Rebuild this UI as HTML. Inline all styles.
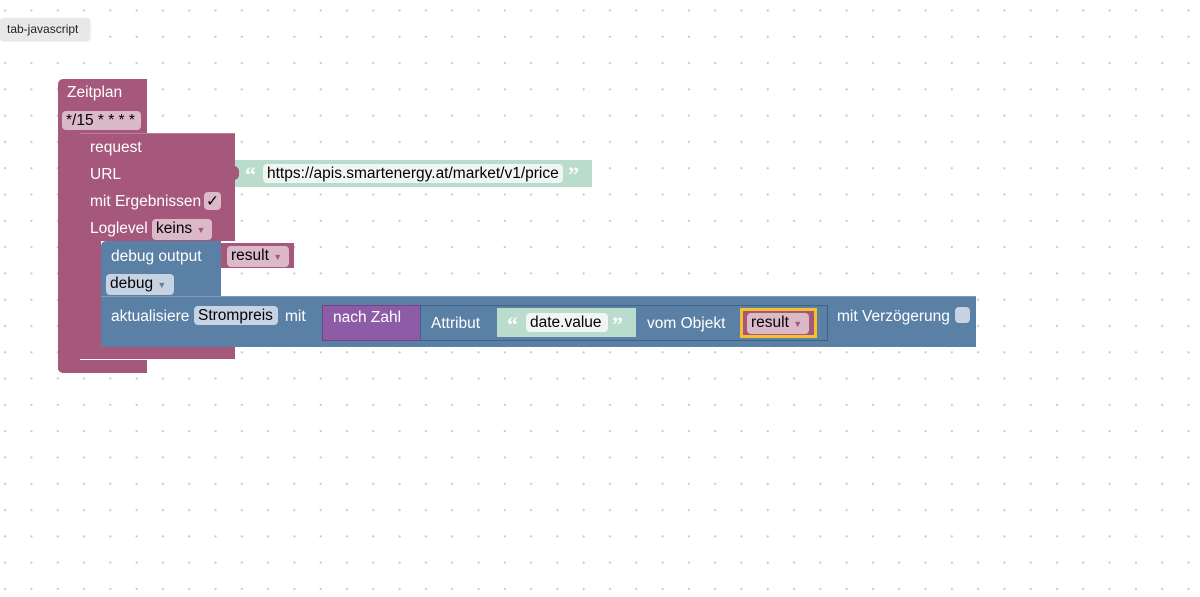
<!DOCTYPE html>
<html><head><meta charset="utf-8"><style>
body{margin:0;width:1200px;height:597px;overflow:hidden;background:#fff;position:relative;font-family:"Liberation Sans",sans-serif;
background-image:radial-gradient(circle,#c8c8c8 0.9px,transparent 1.3px);background-size:26.3px 26.3px;background-position:-8px -29px;}
div{position:absolute;box-sizing:border-box}
.m{background:#a5587b}
.b{background:#5b80a5}
.t{color:#fff;font-size:15.5px;white-space:nowrap}
.f{border-radius:4px;color:#000;font-size:15.5px;white-space:nowrap;line-height:19px;padding:0 4px}
.fm{background:#dcb9c9}
.fb{background:#c7d3e2}
.fw{background:#f1f5f3}
.q{color:#fff;font-size:22px;font-weight:bold;font-family:"Liberation Serif",serif;line-height:22px}
</style></head><body>
<div style="left:0;top:18px;width:90px;height:22px;background:#e8e8e8;border-radius:3px;font-size:12px;line-height:22px;padding-left:7px;color:#222;box-shadow:0 1px 2px rgba(0,0,0,.15)">tab-javascript</div>

<!-- Zeitplan -->
<div class="m" style="left:58px;top:79px;width:89px;height:54px;border-radius:5px 0 0 0"></div>
<div class="m" style="left:58px;top:130px;width:22px;height:240px"></div>
<div class="m" style="left:58px;top:360px;width:89px;height:13px;border-radius:0 0 0 5px"></div>
<div class="t" style="left:67px;top:84px">Zeitplan</div>
<div class="f fm" style="left:62px;top:111px;width:79px">*/15 * * * *</div>

<!-- request -->
<div class="m" style="left:80px;top:133px;width:155px;height:108px;border-top:1px solid #c47c9c"></div>
<div class="m" style="left:80px;top:240px;width:21px;height:118px"></div>
<div class="m" style="left:80px;top:347px;width:155px;height:12px"></div>
<div class="t" style="left:90px;top:139px">request</div>
<div class="t" style="left:90px;top:166px">URL</div>
<div class="t" style="left:90px;top:193px">mit Ergebnissen</div>
<div class="f fm" style="left:204px;top:192px;width:17px;height:18px;padding:0 2px">✓</div>
<div class="t" style="left:90px;top:220px">Loglevel</div>
<div class="f fm" style="left:152px;top:219px;width:60px">keins <span style="color:#a5587b;font-size:9px">▼</span></div>

<!-- URL string -->
<div style="left:235px;top:160px;width:357px;height:27px;background:#b9dccd"></div>
<div style="left:231px;top:166px;width:8px;height:14px;border-radius:0 5px 5px 0;background:#a5587b"></div>
<div class="q" style="left:245px;top:164px">“</div>
<div class="f fw" style="left:263px;top:164px;width:300px">https://apis.smartenergy.at/market/v1/price</div>
<div class="q" style="left:568px;top:164px">”</div>

<!-- debug -->
<div class="b" style="left:101px;top:241px;width:120px;height:56px;border-radius:5px 0 0 0"></div>
<div class="t" style="left:111px;top:248px">debug output</div>
<div class="f fb" style="left:106px;top:274px;width:68px">debug <span style="color:#5b80a5;font-size:9px">▼</span></div>
<div class="m" style="left:221px;top:243px;width:73px;height:25px"></div>
<div class="f fm" style="left:227px;top:246px;width:62px">result <span style="color:#a5587b;font-size:9px">▼</span></div>

<!-- aktualisiere -->
<div class="b" style="left:101px;top:296px;width:875px;height:51px;border-top:1px solid #7d9cbb"></div>
<div class="t" style="left:111px;top:308px">aktualisiere</div>
<div class="f fb" style="left:194px;top:306px;width:84px">Strompreis</div>
<div class="t" style="left:285px;top:308px">mit</div>
<div style="left:322px;top:305px;width:99px;height:36px;background:#8e5ba6;border:1px solid #6f4585"></div>
<div class="t" style="left:333px;top:309px">nach Zahl</div>
<div style="left:420px;top:305px;width:408px;height:36px;background:#5b80a5;border:1px solid #3f6387"></div>
<div class="t" style="left:431px;top:315px">Attribut</div>
<div style="left:497px;top:308px;width:139px;height:29px;background:#b9dccd"></div>
<div class="q" style="left:507px;top:314px">“</div>
<div class="f fw" style="left:526px;top:313px;width:82px">date.value</div>
<div class="q" style="left:612px;top:314px">”</div>
<div class="t" style="left:647px;top:315px">vom Objekt</div>
<div style="left:740px;top:308px;width:77px;height:30px;background:#a5587b;border:3px solid #f5c02a"></div>
<div class="f fm" style="left:747px;top:313px;width:62px">result <span style="color:#a5587b;font-size:9px">▼</span></div>
<div class="t" style="left:837px;top:308px">mit Verzögerung</div>
<div style="left:955px;top:307px;width:15px;height:16px;background:#c7d3e2;border-radius:4px"></div>
</body></html>
